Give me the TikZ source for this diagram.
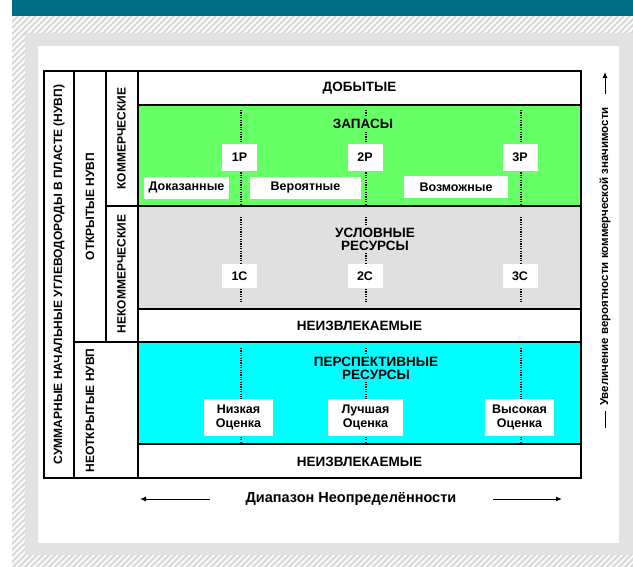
\documentclass[tikz,border=0pt]{standalone}
\usepackage{fontspec}
\setmainfont{Liberation Sans}
\usetikzlibrary{arrows.meta}
\definecolor{tealband}{HTML}{006E85}
\definecolor{hatchc}{HTML}{DADADA}
\definecolor{bgc}{HTML}{E2E2E2}
\definecolor{grn}{HTML}{66FF66}
\definecolor{gry}{HTML}{E0E0E0}
\definecolor{cyn}{HTML}{00FFFF}
\tikzset{
  bd/.style={line width=2pt},
  dotl/.style={line width=2pt, dash pattern=on 1.1pt off 1.3pt},
  ttl/.style={font=\fontsize{13.5}{15}\selectfont\bfseries, inner sep=1.5pt, align=center},
  vt/.style={rotate=90, font=\fontsize{12}{14}\selectfont\bfseries, inner sep=0pt},
  lab/.style={fill=white, font=\fontsize{12.5}{14}\selectfont\bfseries, inner sep=0pt, align=center},
  thinarrow/.style={line width=1pt, -{Latex[length=6pt,width=5pt]}},
}
\begin{document}
\begin{tikzpicture}[x=1pt,y=-1pt]
\useasboundingbox (0,0) rectangle (633,566);
% top band
\fill[tealband] (12,0) rectangle (633,16);
% hatched frame
\begin{scope}
  \clip (12,16) rectangle (633,566);
  \fill[white] (12,16) rectangle (633,566);
  \foreach \i in {-560,-554,...,640} \draw[hatchc, line width=2.2pt] (\i,570) -- ++(570,-570);
\end{scope}
\fill[bgc] (25,33) rectangle (633,555);
\fill[white] (38,46) rectangle (619,543);
% coloured bands
\fill[grn] (138,105) rectangle (581,206);
\fill[gry] (138,206) rectangle (581,309);
\fill[cyn] (138,342) rectangle (581,444);
% dotted lines
\foreach \x in {241,366,521} {
  \draw[dotl] (\x,110) -- (\x,206);
  \draw[dotl] (\x,217) -- (\x,303);
  \draw[dotl] (\x,348) -- (\x,444);
}
% band titles
\node[ttl] (dob) at (359.5,88) {ДОБЫТЫЕ};
\node[ttl, fill=grn] (zap) at (363,123.5) {ЗАПАСЫ};
\node[ttl, fill=gry, inner sep=2pt] (usl) at (375,239) {УСЛОВНЫЕ\\[-2pt]РЕСУРСЫ};
\node[ttl] (neiz1) at (359.5,326) {НЕИЗВЛЕКАЕМЫЕ};
\node[ttl, fill=cyn, inner sep=2pt] (persp) at (376,368) {ПЕРСПЕКТИВНЫЕ\\[-2pt]РЕСУРСЫ};
\node[ttl] (neiz2) at (359.5,461.5) {НЕИЗВЛЕКАЕМЫЕ};
% category labels
\node[lab, minimum width=35, minimum height=27] (p1) at (239.5,157.5) {1P};
\node[lab, minimum width=35, minimum height=27] (p2) at (365,157.5) {2P};
\node[lab, minimum width=35, minimum height=27] (p3) at (520,157.5) {3P};
\node[lab, minimum width=85, minimum height=22] (dok) at (186.5,187.5) {Доказанные};
\node[lab, minimum width=111, minimum height=22] (ver) at (305.5,187.5) {Вероятные};
\node[lab, minimum width=104, minimum height=22] (voz) at (456,187) {Возможные};
\node[lab, minimum width=35, minimum height=24] (c1) at (239.5,276) {1C};
\node[lab, minimum width=35, minimum height=24] (c2) at (365,276) {2C};
\node[lab, minimum width=35, minimum height=24] (c3) at (520,276) {3C};
\node[lab, minimum width=69, minimum height=37] (low) at (238.5,417.5) {Низкая\\Оценка};
\node[lab, minimum width=75, minimum height=37] (best) at (365.5,417.5) {Лучшая\\Оценка};
\node[lab, minimum width=69, minimum height=37] (high) at (519.5,417.5) {Высокая\\Оценка};
% table borders
\draw[bd] (44,71) rectangle (581,478);
\draw[bd] (74,71) -- (74,478);
\draw[bd] (106,71) -- (106,342);
\draw[bd] (138,71) -- (138,478);
\draw[bd] (138,105) -- (581,105);
\draw[bd] (106,206) -- (581,206);
\draw[bd] (138,309) -- (581,309);
\draw[bd] (74,342) -- (581,342);
\draw[bd] (138,444) -- (581,444);
% vertical headers
\node[vt] (sum) at (59,274.5) {СУММАРНЫЕ НАЧАЛЬНЫЕ УГЛЕВОДОРОДЫ В ПЛАСТЕ (НУВП)};
\node[vt] (otk) at (90,206.5) {ОТКРЫТЫЕ НУВП};
\node[vt] (kom) at (121.5,138.5) {КОММЕРЧЕСКИЕ};
\node[vt] (nekom) at (121.5,274) {НЕКОММЕРЧЕСКИЕ};
\node[vt] (neotk) at (90,410.5) {НЕОТКРЫТЫЕ НУВП};
% right axis
\node[vt, font=\fontsize{11.5}{13}\selectfont\bfseries] (uvel) at (605,256.5) {Увеличение вероятности коммерческой значимости};
\coordinate (ub1) at (605,428);
\coordinate (ub2) at (605,411);
\coordinate (ut1) at (605,94);
\coordinate (ut2) at (605,72);
\draw[line width=1pt] (ub1) -- (ub2);
\draw[thinarrow] (ut1) -- (ut2);
% bottom axis
\node[ttl, font=\fontsize{14.5}{16}\selectfont\bfseries] (diap) at (351,499) {Диапазон Неопределённости};
\coordinate (la1) at (210,499);
\coordinate (la2) at (140,499);
\coordinate (ra1) at (493,499);
\coordinate (ra2) at (562,499);
\draw[thinarrow] (la1) -- (la2);
\draw[thinarrow] (ra1) -- (ra2);
\end{tikzpicture}
\end{document}
